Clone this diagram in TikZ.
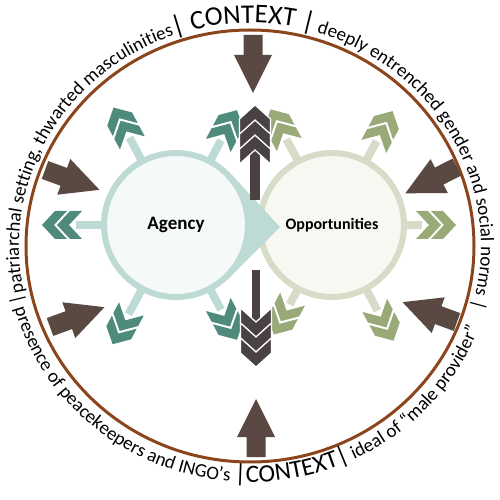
\documentclass[tikz,border=0pt]{standalone}
\usepackage{fontspec}
\setmainfont{Carlito}
\usepackage{tikz}
\usetikzlibrary{decorations.text,calc}
\definecolor{ringbrown}{RGB}{139,69,29}
\definecolor{ctxbrown}{RGB}{90,72,67}
\definecolor{agencyline}{RGB}{190,218,212}
\definecolor{agencyfill}{RGB}{245,249,248}
\definecolor{agencydark}{RGB}{78,139,124}
\definecolor{oppline}{RGB}{214,220,200}
\definecolor{oppfill}{RGB}{247,248,242}
\definecolor{oppdark}{RGB}{154,169,120}
\definecolor{centredark}{RGB}{74,65,66}
\newcommand{\ctxsmall}{\fontsize{19}{19}\selectfont}
\newcommand{\ctxbig}{\fontsize{27}{27}\selectfont}
\newcommand{\ctxlow}{\fontsize{25}{25}\selectfont}

\begin{document}
\begin{tikzpicture}[x=1pt,y=1pt]
      \tikzset{ring/.style={draw=ringbrown,line width=3pt}}
      \tikzset{ctxarrow/.style={fill=ctxbrown}}
      \tikzset{bigcircle/.style={circle,minimum size=144,inner sep=0pt,line width=6pt}}
      \tikzset{stem/.style={line width=8pt}}
      \tikzset{chevron/.style={draw=white,line width=1.2pt,fill=centredark}}
      \tikzset{ringtext/.style={decorate,decoration={text along path,text align=center,text format delimiters={[}{]},text={#1}}}}

      \useasboundingbox (-250,-254) rectangle (249,246);
      \coordinate (ringc) at (0,0);
      \coordinate (agencyc) at (-74,21);
      \coordinate (oppc) at (82,21);
      \coordinate (pointer) at (30,19);

      % outer ring and its texts
      \draw[ring] (ringc) ellipse [x radius=224,y radius=216];
      \path[ringtext={[\ctxsmall]patriarchal setting, thwarted masculinities[\ctxbig]| CONTEXT |[\ctxsmall] deeply entrenched gender and social norms |}]
        (ringc) ++(237:231 and 223) arc[start angle=237,end angle=-61,x radius=231,y radius=223];
      \path[ringtext={[\ctxsmall]| presence of peacekeepers and INGO’s [\ctxlow]|CONTEXT|[\ctxsmall] ideal of “male provider”}]
        (ringc) ++(116:244 and 236) arc[start angle=116,end angle=416,x radius=244,y radius=236];

      % context pressure
      \foreach \px/\py/\ang in {3/211/-90, 6/-211/90, -205/76/-20, -200/-81/20, 207/79/207, 207/-76/160}{
        \fill[ctxarrow,shift={(\px,\py)},rotate=\ang] (0,-9.5) -- (20,-9.5) -- (20,-19) -- (58,0) -- (20,19) -- (20,9.5) -- (0,9.5) -- cycle;
      }

      % outward chevrons
      \foreach \ang/\tp in {118/133, 62/130, 180/134, 242/135, 298/130}{
        \begin{scope}[shift={(agencyc)},rotate=\ang]
          \draw[stem,agencyline] (70,0) -- ({\tp-34},0);
          \fill[agencydark] ({\tp-15},0) -- ({\tp-28},14) -- ({\tp-40},14) -- ({\tp-27},0) -- ({\tp-40},-14) -- ({\tp-28},-14) -- cycle;
          \fill[agencydark] (\tp,0) -- ({\tp-13},14) -- ({\tp-25},14) -- ({\tp-12},0) -- ({\tp-25},-14) -- ({\tp-13},-14) -- cycle;
        \end{scope}
      }
      \foreach \ang/\tp in {118/131, 62/129, 0/124, 242/124, 298/131}{
        \begin{scope}[shift={(oppc)},rotate=\ang]
          \draw[stem,oppline] (70,0) -- ({\tp-34},0);
          \fill[oppdark] ({\tp-15},0) -- ({\tp-28},14) -- ({\tp-40},14) -- ({\tp-27},0) -- ({\tp-40},-14) -- ({\tp-28},-14) -- cycle;
          \fill[oppdark] (\tp,0) -- ({\tp-13},14) -- ({\tp-25},14) -- ({\tp-12},0) -- ({\tp-25},-14) -- ({\tp-13},-14) -- cycle;
        \end{scope}
      }

      % the two circles
      \node[bigcircle,draw=oppline,fill=oppfill,font=\bfseries\fontsize{16}{16}\selectfont] (opp) at (oppc) {Opportunities};
      \fill[agencyline] (pointer) -- ($(agencyc)+(42.8:75)$) -- ($(agencyc)+(-45:75)$) -- cycle;
      \node[bigcircle,draw=agencyline,fill=agencyfill,font=\bfseries\fontsize{19}{19}\selectfont] (agency) at (agencyc) {Agency};

      % central arrows
      \fill[centredark] (0,46) rectangle (10,100);
      \foreach \t in {111,126,141}{
        \filldraw[chevron] (5,\t) -- (20.5,{\t-14}) -- (20.5,{\t-29}) -- (5,{\t-15}) -- (-10.5,{\t-29}) -- (-10.5,{\t-14}) -- cycle;
      }
      \fill[centredark] (2,-24) rectangle (10,-80);
      \foreach \t in {-91,-106,-121}{
        \filldraw[chevron] (6,\t) -- (21.5,{\t+14}) -- (21.5,{\t+29}) -- (6,{\t+15}) -- (-9.5,{\t+29}) -- (-9.5,{\t+14}) -- cycle;
      }
\end{tikzpicture}
\end{document}
